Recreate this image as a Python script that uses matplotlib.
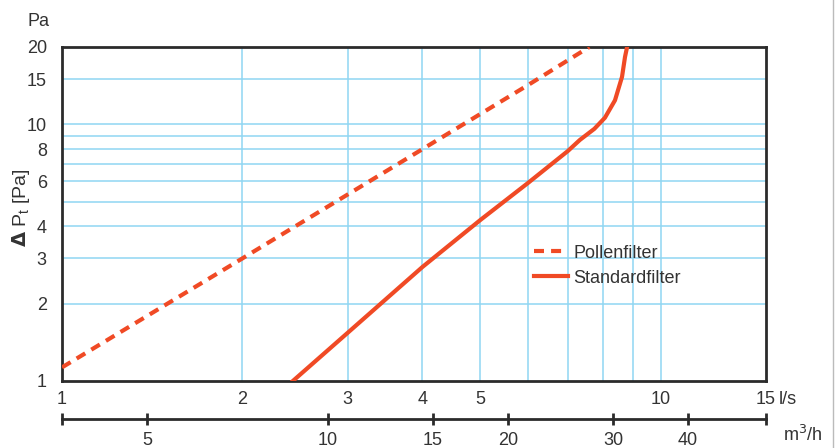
import numpy as np
import matplotlib
matplotlib.use('Agg')
import matplotlib.pyplot as plt
from matplotlib.ticker import FixedLocator, NullLocator, FixedFormatter
from matplotlib.transforms import blended_transform_factory, offset_copy

plt.rcParams['font.family'] = ['Liberation Sans Narrow', 'Liberation Sans', 'DejaVu Sans']

# Pollenfilter (dashed) - flow l/s vs pressure drop Pa
pollen_q = [1.0, 2.0, 4.0, 6.0, 7.6]
pollen_p = [1.13, 3.0, 8.0, 14.2, 20.0]

# Standardfilter (solid)
std_q = [2.43, 3.0, 4.0, 5.0, 6.0, 7.0, 7.33, 7.75, 8.07, 8.39, 8.62, 8.72, 8.79]
std_p = [1.0, 1.54, 2.78, 4.24, 5.9, 7.87, 8.69, 9.6, 10.6, 12.4, 15.3, 18.3, 20.0]

x_ticks = [1, 2, 3, 4, 5, 10, 15]
x_grid = [2, 3, 4, 5, 6, 7, 8, 9, 10]
y_ticks = [1, 2, 3, 4, 6, 8, 10, 15, 20]
y_grid = [2, 3, 4, 5, 6, 7, 8, 9, 10, 15]
m3h_ticks = [5, 10, 15, 20, 30, 40]

red = '#f04a25'
grid_c = '#8fd6f2'
dark = '#2b2b2b'
txt = '#333333'

fig = plt.figure(figsize=(8.35, 4.48), dpi=100)
ax = fig.add_axes([0.0743, 0.1496, 0.8431, 0.7455])
ax.set_xscale('log')
ax.set_yscale('log')
ax.set_xlim(1, 15)
ax.set_ylim(1, 20)

for g in x_grid:
    ax.axvline(g, color=grid_c, lw=1.1, zorder=1)
for g in y_grid:
    ax.axhline(g, color=grid_c, lw=1.1, zorder=1)

ax.plot(pollen_q, pollen_p, color=red, lw=3, ls=(0, (2.4, 1.7)), zorder=3, label='Pollenfilter')
ax.plot(std_q, std_p, color=red, lw=3, zorder=3, label='Standardfilter')

for s in ax.spines.values():
    s.set_linewidth(2)
    s.set_color(dark)

ax.xaxis.set_major_locator(FixedLocator(x_ticks))
ax.xaxis.set_major_formatter(FixedFormatter([str(t) for t in x_ticks]))
ax.xaxis.set_minor_locator(NullLocator())
ax.yaxis.set_major_locator(FixedLocator(y_ticks))
ax.yaxis.set_major_formatter(FixedFormatter([str(t) for t in y_ticks]))
ax.yaxis.set_minor_locator(NullLocator())
ax.tick_params(axis='both', length=0, labelsize=13, colors=txt)
ax.tick_params(axis='x', pad=7)
ax.tick_params(axis='y', pad=11)

ax.set_ylabel(r'$\mathbf{\Delta}$ P$_\mathregular{t}$ [Pa]', fontsize=14, color=txt)
ax.yaxis.set_label_coords(-0.043, 0.52)

ax.text(-0.033, 1.075, 'Pa', transform=ax.transAxes, ha='center', va='center', fontsize=13, color=txt)

# unit after the last x tick label
trans = offset_copy(blended_transform_factory(ax.transData, ax.transAxes), fig=fig, x=9, y=-7, units='points')
ax.text(15, 0, 'l/s', transform=trans, ha='left', va='top', fontsize=13, color=txt)

leg = ax.legend(loc='upper left', bbox_to_anchor=(0.66, 0.43), frameon=False, fontsize=13,
                handlelength=1.9, handletextpad=0.3, labelspacing=0.45, borderaxespad=0)
for t in leg.get_texts():
    t.set_color(txt)

# secondary axis in m3/h
sec = ax.secondary_xaxis(-0.114, functions=(lambda q: q * 3.6, lambda v: v / 3.6))
sec.set_xscale('log')
sec.xaxis.set_major_locator(FixedLocator([3.6] + m3h_ticks + [54]))
sec.xaxis.set_major_formatter(FixedFormatter([''] + [str(t) for t in m3h_ticks] + ['']))
sec.xaxis.set_minor_locator(NullLocator())
sec.spines['bottom'].set_linewidth(2)
sec.spines['bottom'].set_color(dark)
sec.tick_params(axis='x', direction='inout', length=9, width=2, color=dark, labelsize=13,
                labelcolor=txt, pad=5)
fig.text(0.938, 0.006, 'm$^3$/h', ha='left', va='bottom', fontsize=13, color=txt)

fig.add_artist(plt.Line2D([0.998, 0.998], [0, 1], color='#bbbbbb', lw=1, transform=fig.transFigure))

fig.savefig('out.png', dpi=100)
